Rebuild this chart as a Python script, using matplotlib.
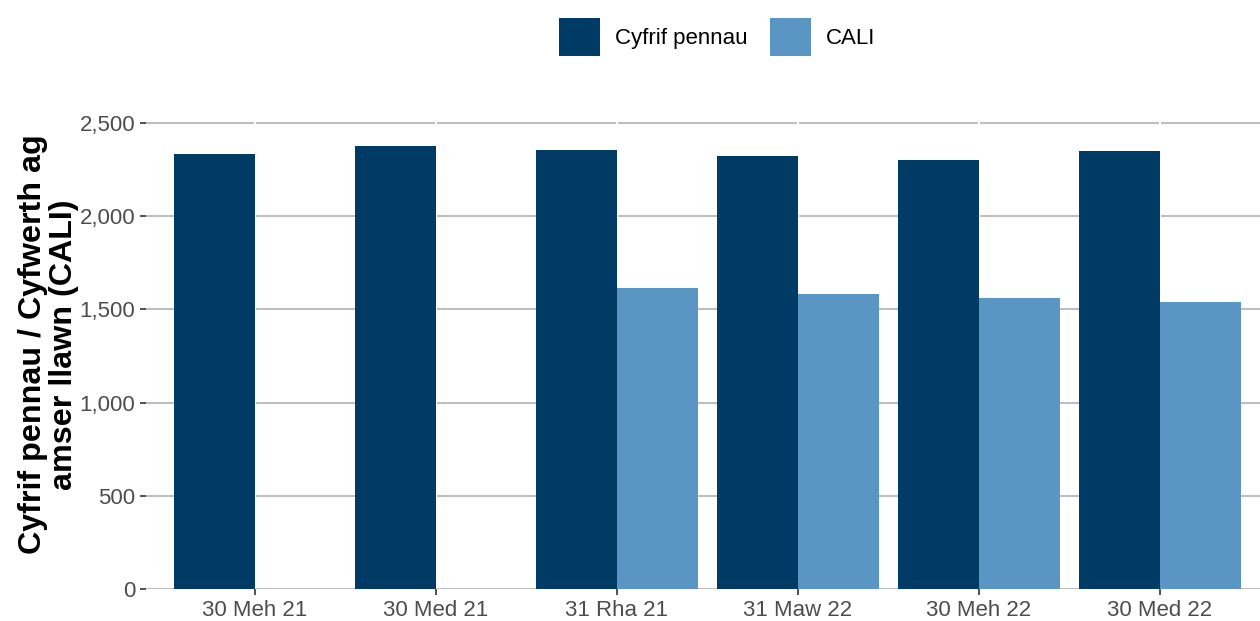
import numpy as np
import matplotlib
matplotlib.use('Agg')
import matplotlib.pyplot as plt

plt.rcParams['font.family'] = ['Liberation Sans', 'DejaVu Sans']

# data
categories = ['30 Meh 21', '30 Med 21', '31 Rha 21', '31 Maw 22', '30 Meh 22', '30 Med 22']
headcount = [2332, 2377, 2353, 2323, 2300, 2348]
fte = [np.nan, np.nan, 1613, 1583, 1563, 1541]
series_names = ['Cyfrif pennau', 'CALI']
y_ticks = [0, 500, 1000, 1500, 2000, 2500]

dark = '#003b66'
light = '#5a96c4'

fig = plt.figure(figsize=(12.6, 6.21), dpi=100)
W, H = 1260, 621
left, right = 146.4, 1268.6
bottom, top = 589, 99.7
ax = fig.add_axes([left / W, (H - bottom) / H, (right - left) / W, (bottom - top) / H])

x = np.arange(len(categories))
bw = 0.45
ax.bar(x - bw / 2, headcount, width=bw, color=dark, label=series_names[0], zorder=3)
ax.bar(x + bw / 2, fte, width=bw, color=light, label=series_names[1], zorder=3)

ax.set_xlim(-0.6, len(categories) - 0.4)
ax.set_ylim(0, 2625)

# grid: grey horizontal lines, white vertical lines at the categories
for yv in y_ticks:
    ax.axhline(yv, color='#bebebe', lw=1.5, zorder=1)
for xv in x:
    ax.axvline(xv, color='white', lw=1.5, zorder=2)

ax.set_yticks(y_ticks)
ax.set_yticklabels([f'{v:,}' for v in y_ticks])
ax.set_xticks(x)
ax.set_xticklabels(categories)
ax.tick_params(axis='both', labelsize=16, labelcolor='#4d4d4d', color='#333333',
               length=4, width=1.2)
ax.tick_params(axis='y', pad=4)
ax.tick_params(axis='x', pad=4)

for s in ax.spines.values():
    s.set_visible(False)

ax.set_ylabel('Cyfrif pennau / Cyfwerth ag\namser llawn (CALI)', fontsize=23.2,
              fontweight='bold', linespacing=1.05)
ax.yaxis.set_label_coords((79 - left) / (right - left), 0.5)

fig.legend(loc='center', bbox_to_anchor=(717 / W, 1 - 37 / H), ncol=2, frameon=False,
           fontsize=16, handlelength=1.85, handleheight=2.3, handletextpad=0.68,
           columnspacing=1.0)

fig.savefig('out.png', dpi=100)
